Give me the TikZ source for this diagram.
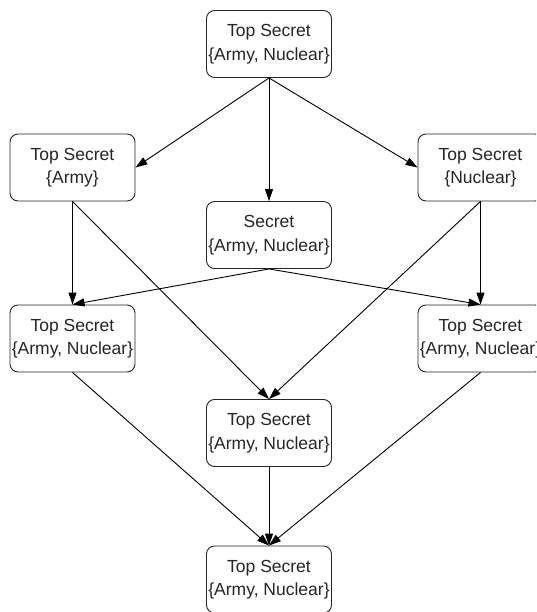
\documentclass[tikz,border=0pt]{standalone}
\usepackage{fontspec}
\setmainfont{Liberation Sans}
\usetikzlibrary{arrows.meta}
\begin{document}
\begin{tikzpicture}[x=1pt,y=-1pt,
  level/.style={draw=black!85, line width=0.9pt, rounded corners=8pt, fill=white,
    minimum width=125pt, minimum height=67pt, inner sep=0pt, align=center,
    text=black!85, font=\fontsize{17.5}{23.5}\selectfont},
  flow/.style={line width=0.9pt, -{Triangle[length=12pt,width=8pt]}}]
\useasboundingbox (0,0) rectangle (536,612);
\clip (0,0) rectangle (536,612);
% lattice nodes
\node[level] (top) at (269,44) {Top Secret\\\{Army, Nuclear\}};
\node[level] (army) at (72.5,167.5) {Top Secret\\\{Army\}};
\node[level] (nuc) at (480.5,167.5) {Top Secret\\\{Nuclear\}};
\node[level] (sec) at (269,235) {Secret\\\{Army, Nuclear\}};
\node[level] (left) at (72.5,338.5) {Top Secret\\\{Army, Nuclear\}};
\node[level] (right) at (480.5,338.5) {Top Secret\\\{Army, Nuclear\}};
\node[level] (mid) at (269,433) {Top Secret\\\{Army, Nuclear\}};
\node[level] (bot) at (269,579.5) {Top Secret\\\{Army, Nuclear\}};
% dominance edges
\draw[flow] (top.south) -- (army.east);
\draw[flow] (top.south) -- (sec.north);
\draw[flow] (top.south) -- (nuc.west);
\draw[flow] (army.south) -- (left.north);
\draw[flow] (army.south) -- (mid.north);
\draw[flow] (nuc.south) -- (right.north);
\draw[flow] (nuc.south) -- (mid.north);
\draw[flow] (sec.south) -- (left.north);
\draw[flow] (sec.south) -- (right.north);
\draw[flow] (left.south) -- (bot.north);
\draw[flow] (mid.south) -- (bot.north);
\draw[flow] (right.south) -- (bot.north);
\end{tikzpicture}
\end{document}
